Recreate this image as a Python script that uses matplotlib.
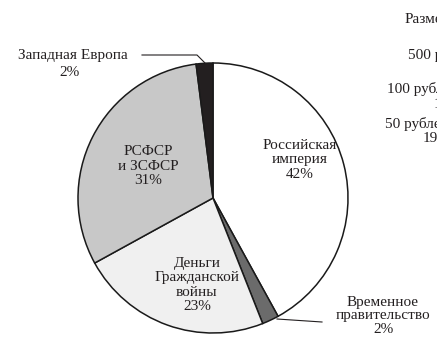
import matplotlib.pyplot as plt

plt.rcParams['font.family'] = ['Liberation Serif', 'DejaVu Serif']

# доли денежной массы по эмитентам
labels = ['Российская\nимперия', 'Временное\nправительство', 'Деньги\nГражданской\nвойны',
          'РСФСР\nи ЗСФСР', 'Западная Европа']
shares = [42, 2, 23, 31, 2]
colors = ['#ffffff', '#6b6b6b', '#f0f0f0', '#c8c8c8', '#231f20']

W, H = 437, 339
fig = plt.figure(figsize=(W / 100, H / 100), dpi=100)

cx, cy, r = 213, 198, 135
ax = fig.add_axes([(cx - r) / W, (H - cy - r) / H, 2 * r / W, 2 * r / H])
ax.pie(shares, colors=colors, startangle=90, counterclock=False, radius=1,
       wedgeprops=dict(edgecolor='#1a1a1a', linewidth=1.1))
ax.set_xlim(-1, 1)
ax.set_ylim(-1, 1)
ax.set_aspect('equal')
ax.axis('off')

def px(x, y):
    return (x - cx) / r, (cy - y) / r

fs = 11
ls = 1.15
ink = '#231f20'
# подписи внутри секторов
for i, pos in [(0, (300, 160)), (3, (148, 166)), (2, (197, 285))]:
    ax.text(*px(*pos), f'{labels[i]}\n{shares[i]}%', ha='center', va='center',
            fontsize=fs, linespacing=ls, color=ink)

# выноски для малых секторов
fig.text(73 / W, 1 - 55 / H, labels[4], ha='center', va='center', fontsize=fs, color=ink)
fig.text(70 / W, 1 - 72 / H, f'{shares[4]}%', ha='center', va='center', fontsize=fs, color=ink)
xs, ys = zip(px(142, 55), px(197, 55), px(206, 64))
ax.plot(xs, ys, color=ink, lw=0.8, clip_on=False)

fig.text(383 / W, 1 - 316 / H, f'{labels[1]}\n{shares[1]}%', ha='center', va='center',
         fontsize=fs, linespacing=1.05, color=ink)
xs, ys = zip(px(277, 319), px(322, 322))
ax.plot(xs, ys, color=ink, lw=0.8, clip_on=False)

# соседняя таблица номиналов (обрезана краем)
side = [('Размер', 405, 20), ('500 рублей', 408, 55), ('100 рублей', 387, 89),
        ('1918', 434, 104), ('50 рублей', 385, 124), ('1919', 423, 139)]
for txt, x, y in side:
    fig.text(x / W, 1 - y / H, txt, ha='left', va='center', fontsize=fs, color=ink)

fig.savefig('out.png', dpi=100)
